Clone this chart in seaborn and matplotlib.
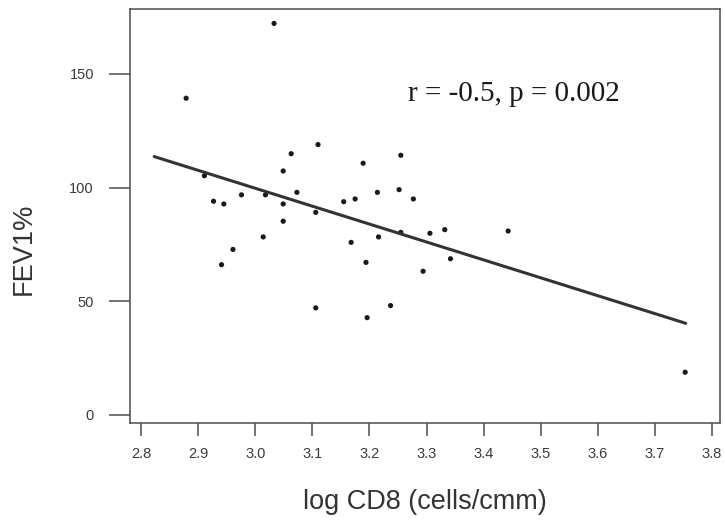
import numpy as np
import matplotlib
matplotlib.use('Agg')
import matplotlib.pyplot as plt
import seaborn as sns

# --- data ---
log_cd8 = [3.033, 2.879, 3.110, 3.063, 3.255, 3.189, 3.049, 2.911, 2.976, 3.018,
           3.073, 3.214, 3.252, 3.277, 2.927, 2.945, 3.049, 3.155, 3.175, 3.106,
           3.049, 3.014, 3.216, 3.255, 3.168, 2.961, 3.194, 2.941, 3.106, 3.237,
           3.196, 3.306, 3.332, 3.443, 3.342, 3.294, 3.753]
fev1 = [172.2, 139.3, 118.9, 114.9, 114.2, 110.7, 107.3, 105.2, 96.8, 96.8,
        97.9, 97.9, 99.1, 95.0, 94.0, 92.8, 92.8, 93.8, 95.0, 89.1,
        85.2, 78.3, 78.3, 80.3, 75.9, 72.8, 67.1, 66.1, 47.1, 48.1,
        42.8, 79.9, 81.5, 80.9, 68.7, 63.2, 18.8]
fit_span = [2.823, 3.754]   # x range the fitted line covers
x_ticks = [2.8, 2.9, 3.0, 3.1, 3.2, 3.3, 3.4, 3.5, 3.6, 3.7, 3.8]
y_ticks = [0, 50, 100, 150]
stats_text = 'r = -0.5, p = 0.002'

sns.set_theme(style='white')
plt.rcParams['font.family'] = ['Liberation Sans', 'DejaVu Sans']

fig, ax = plt.subplots(figsize=(7.25, 5.23), dpi=100)
fig.subplots_adjust(left=0.1793, right=0.9931, bottom=0.1918, top=0.9822)

# points
sns.scatterplot(x=log_cd8, y=fev1, ax=ax, s=14, color='#1a1a1a',
                edgecolor='none', linewidth=0)

# least squares fit line
slope, intercept = np.polyfit(log_cd8, fev1, 1)
fit_x = np.array(fit_span)
sns.lineplot(x=fit_x, y=slope * fit_x + intercept, ax=ax,
             color='#333333', linewidth=2.2)

ax.text(3.2676, 138.1, stats_text, fontsize=21, color='#1a1a1a',
        family=['Liberation Serif', 'DejaVu Serif'], va='baseline', ha='left')

ax.set_xlim(2.7807, 3.814)
ax.set_ylim(-3.4, 178.4)
ax.set_xticks(x_ticks)
ax.set_xticklabels([f'{t:.1f}' for t in x_ticks])
ax.set_yticks(y_ticks)

for sp in ax.spines.values():
    sp.set_visible(True)
    sp.set_color('#4d4d4d')
    sp.set_linewidth(1.1)

ax.tick_params(axis='x', bottom=True, direction='out', length=9.5, width=1.1,
               color='#4d4d4d', pad=8, labelsize=10.5, labelcolor='#3a3a3a')
ax.tick_params(axis='y', left=True, direction='out', length=15, width=1.1,
               color='#4d4d4d', pad=11, labelsize=10.5, labelcolor='#3a3a3a')

ax.set_xlabel('log CD8 (cells/cmm)', fontsize=19.5, color='#333333')
ax.set_ylabel('FEV1%', fontsize=19.5, color='#333333')
ax.xaxis.set_label_coords(0.5, -0.161)
ax.yaxis.set_label_coords(-0.158, 0.42)

plt.savefig('out.png', dpi=100)
